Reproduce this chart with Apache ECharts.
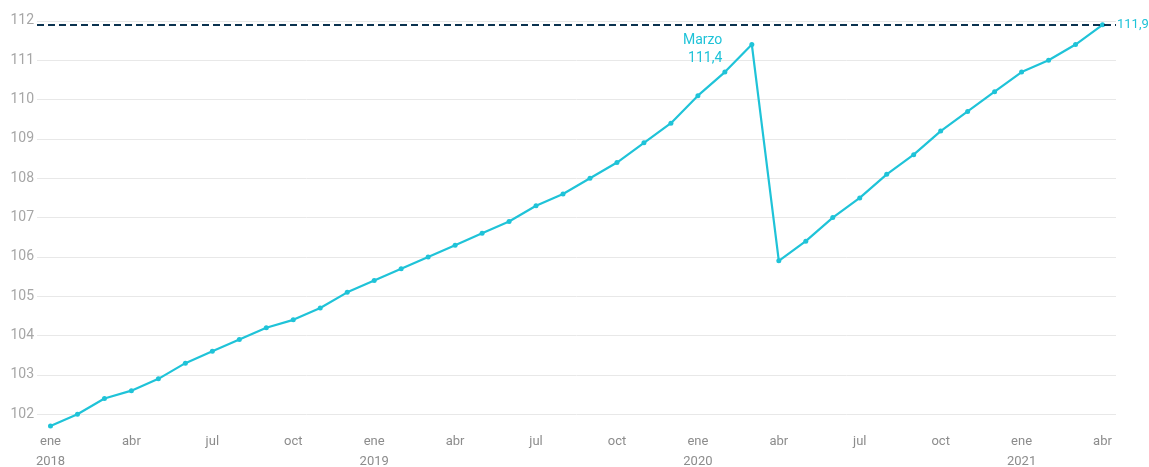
<!DOCTYPE html>
<html>
<head>
<meta charset="utf-8">
<script src="https://cdn.jsdelivr.net/npm/echarts@6/dist/echarts.min.js"></script>
<style>
  html, body { margin: 0; padding: 0; background: #fff; }
  #chart { width: 1149px; height: 467px; }
</style>
</head>
<body>
<div id="chart"></div>
<script>
// meses y años del eje x
var months = ['ene', 'feb', 'mar', 'abr', 'may', 'jun', 'jul', 'ago', 'sep', 'oct', 'nov', 'dic'];
var years = ['2018', '2019', '2020', '2021'];
var lastMonths = 4; // 2021 llega hasta abril

// índice mensual, ene 2018 - abr 2021
var values = [
  101.7, 102.0, 102.4, 102.6, 102.9, 103.3, 103.6, 103.9, 104.2, 104.4, 104.7, 105.1,
  105.4, 105.7, 106.0, 106.3, 106.6, 106.9, 107.3, 107.6, 108.0, 108.4, 108.9, 109.4,
  110.1, 110.7, 111.4, 105.9, 106.4, 107.0, 107.5, 108.1, 108.6, 109.2, 109.7, 110.2,
  110.7, 111.0, 111.4, 111.9
];

var peakIndex = 26;          // marzo 2020
var peakText = 'Marzo\n111,4';
var refLevel = 111.9;
var refText = '111,9';

var categories = [];
years.forEach(function (y, yi) {
  var n = yi === years.length - 1 ? lastMonths : 12;
  for (var m = 0; m < n; m++) {
    categories.push(m === 0 ? months[m] + '\n' + y : months[m]);
  }
});

var cyan = '#1fc3d8';

var seriesData = values.map(function (v, i) {
  if (i !== peakIndex) return v;
  return {
    value: v,
    label: {
      show: true,
      position: 'left',
      distance: 27,
      offset: [0, 5],
      formatter: peakText,
      color: cyan,
      fontSize: 14,
      lineHeight: 18,
      align: 'right',
      fontFamily: 'Roboto'
    }
  };
});

var chart = echarts.init(document.getElementById('chart'));
chart.setOption({
  animation: false,
  grid: { left: 37, right: 33, top: 17, bottom: 37, outerBoundsMode: 'none' },
  xAxis: {
    type: 'category',
    data: categories,
    boundaryGap: true,
    axisLine: { show: false },
    axisTick: { show: false },
    axisLabel: {
      interval: 2,
      color: '#8c8c8c',
      fontSize: 13,
      lineHeight: 20,
      margin: 2,
      fontFamily: 'Roboto'
    }
  },
  yAxis: {
    type: 'value',
    min: 101.6,
    max: 112.1,
    splitNumber: 10,
    axisLine: { show: false },
    axisTick: { show: false },
    axisLabel: {
      color: '#a6a6a6',
      fontSize: 14,
      margin: 3,
      fontFamily: 'Roboto',
      formatter: function (v) {
        return Math.abs(v - Math.round(v)) < 1e-6 ? String(Math.round(v)) : '';
      }
    },
    splitLine: {
      showMinLine: false,
      showMaxLine: false,
      lineStyle: { color: '#e8e8e8', width: 1 }
    }
  },
  series: [{
    type: 'line',
    data: seriesData,
    symbol: 'circle',
    symbolSize: 5,
    lineStyle: { color: cyan, width: 2.2 },
    itemStyle: { color: cyan },
    markLine: {
      silent: true,
      symbol: 'none',
      lineStyle: { color: '#0b3350', width: 2, type: [7, 4] },
      label: {
        show: true,
        position: 'end',
        distance: 1,
        formatter: refText,
        color: cyan,
        fontSize: 13,
        fontFamily: 'Roboto'
      },
      data: [{ yAxis: refLevel }]
    }
  }]
});
</script>
</body>
</html>
